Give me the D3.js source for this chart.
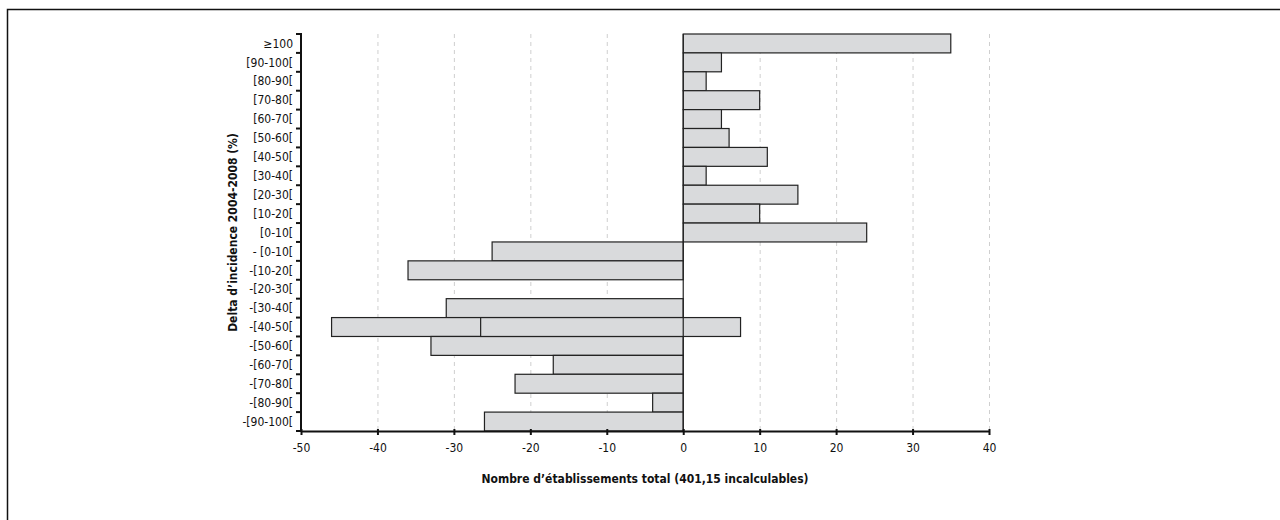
<!DOCTYPE html>
<html><head><meta charset="utf-8">
<script src="https://cdn.jsdelivr.net/npm/d3@7"></script>
<style>
body{margin:0;background:#fff;}
text{font-family:"Liberation Sans Narrow","Arial Narrow","DejaVu Sans Condensed",sans-serif;fill:#111;}
</style></head><body>
<svg id="c" width="1280" height="520"></svg>
<script>
const categories = ["≥100","[90-100[","[80-90[","[70-80[","[60-70[","[50-60[","[40-50[","[30-40[","[20-30[","[10-20[","[0-10[","- [0-10[","-[10-20[","-[20-30[","-[30-40[","-[40-50[","-[50-60[","-[60-70[","-[70-80[","-[80-90[","-[90-100["];
const values = [35,5,3,10,5,6,11,3,15,10,24,-25,-36,0,-31,-46,-33,-17,-22,-4,-26];
const overlayCategory = ["-[40-50["];
const overlayStart = [-26.5];
const overlayEnd = [7.5];
const xTicks = [-50,-40,-30,-20,-10,0,10,20,30,40];
const xTitle = "Nombre d’établissements total (401,15 incalculables)";
const yTitle = "Delta d’incidence 2004-2008 (%)";

const svg = d3.select("#c");
const L = 301, R = 989, T = 34, B = 431;
const x = d3.scaleLinear().domain([-50,40]).range([L,R]);
const y = d3.scaleBand().domain(categories).range([T,B]).padding(0);

// frame (top and left)
svg.append("path").attr("d","M7.5,520 L7.5,9.5 L1280,9.5").attr("fill","none").attr("stroke","#111").attr("stroke-width",1.5);

// grid
svg.append("g").selectAll("line").data(xTicks.filter(d=>d!==-50 && d!==0)).join("line")
  .attr("x1",d=>x(d)+0.5).attr("x2",d=>x(d)+0.5).attr("y1",T).attr("y2",B)
  .attr("stroke","#cfcfcf").attr("stroke-dasharray","4,4").attr("stroke-width",1);

// bars
svg.append("g").selectAll("rect").data(categories.map((c,i)=>({c,v:values[i]}))).join("rect")
  .attr("x",d=>x(Math.min(0,d.v))).attr("width",d=>Math.abs(x(d.v)-x(0)))
  .attr("y",d=>y(d.c)).attr("height",y.bandwidth())
  .attr("fill","#d9dadc").attr("stroke","#222").attr("stroke-width",1.2);

svg.append("g").selectAll("rect").data(overlayCategory.map((c,i)=>({c,s:overlayStart[i],e:overlayEnd[i]}))).join("rect")
  .attr("x",d=>x(d.s)).attr("width",d=>x(d.e)-x(d.s))
  .attr("y",d=>y(d.c)).attr("height",y.bandwidth())
  .attr("fill","#d9dadc").attr("stroke","#222").attr("stroke-width",1.2);

// zero line
svg.append("line").attr("x1",x(0)).attr("x2",x(0)).attr("y1",T).attr("y2",B).attr("stroke","#222").attr("stroke-width",1.2);

// x axis
const xa = svg.append("g").attr("transform",`translate(0,${B})`)
  .call(d3.axisBottom(x).tickValues(xTicks).tickFormat(d=>String(d)).tickSize(4).tickSizeOuter(0).tickPadding(8));
xa.select(".domain").attr("stroke","#111").attr("stroke-width",2);
xa.selectAll(".tick line").attr("stroke","#111").attr("stroke-width",2).attr("y1",-2);
xa.selectAll("text").attr("font-size",12).attr("fill","#111");

// y axis: ticks at band boundaries
const ya = svg.append("g").attr("transform",`translate(${L},0)`);
ya.append("line").attr("x1",0).attr("x2",0).attr("y1",T-1).attr("y2",B).attr("stroke","#111").attr("stroke-width",2);
const bounds = categories.map(c=>y(c)).concat([B]);
ya.selectAll("line.t").data(bounds).join("line").attr("class","t")
  .attr("x1",-5).attr("x2",0).attr("y1",d=>d).attr("y2",d=>d).attr("stroke","#111").attr("stroke-width",2);
ya.selectAll("text").data(categories).join("text")
  .attr("x",-8).attr("y",d=>y(d)+y.bandwidth()/2).attr("dy","0.35em")
  .attr("text-anchor","end").attr("font-size",12).text(d=>d);

// titles
svg.append("text").attr("x",(L+R)/2).attr("y",483).attr("text-anchor","middle")
  .attr("font-size",12).attr("font-weight","bold").text(xTitle);
svg.append("text").attr("transform",`translate(237,${(T+B)/2}) rotate(-90)`).attr("text-anchor","middle")
  .attr("font-size",12).attr("font-weight","bold").text(yTitle);
</script></body></html>
